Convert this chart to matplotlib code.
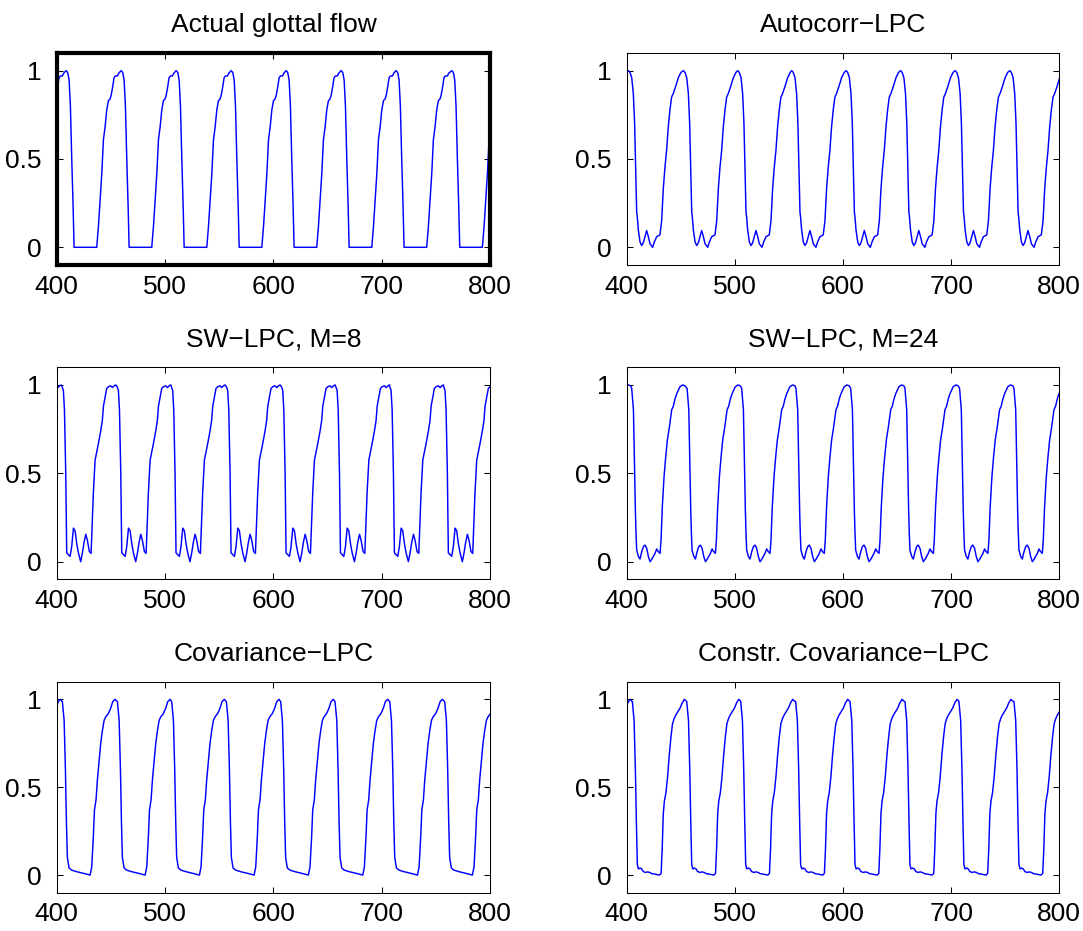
import numpy as np
import matplotlib
matplotlib.use("Agg")
import matplotlib.pyplot as plt

# One period of every waveform.
# t = samples relative to the closing instant (falling 0.5 crossing),
# falls = closing instants of the successive periods.

flow_t = [-5.3, -3.8, -2.5, -1.3, -0.1, 1.2, 2.1, 23.0, 24.6, 26.1, 27.7, 29.2, 30.7,
          32.3, 33.8, 35.3, 36.3, 37.5, 39.0, 40.3, 42.1, 43.3]
flow_y = [1.0, 0.99, 0.947, 0.80, 0.51, 0.23, 0.0, 0.0, 0.12, 0.27, 0.42, 0.61, 0.68,
          0.78, 0.83, 0.84, 0.86, 0.90, 0.96, 0.97, 0.97, 0.985]
flow_falls = [363.1, 413.9, 464.7, 515.5, 566.3, 617.0, 667.8, 718.5, 769.9, 820.7]

acorr_t = [-6.6, -5.1, -3.5, -2.0, -0.8, 0.2, 1.1, 1.7, 2.6, 4.2, 5.7, 7.2, 8.8, 10.3,
           11.9, 13.4, 15.9, 17.4, 19.6, 22.6, 24.2, 25.7, 27.2, 28.8, 30.3, 31.9, 33.4,
           34.9, 37.1, 39.6, 42.0]
acorr_y = [1.0, 0.99, 0.96, 0.87, 0.70, 0.45, 0.20, 0.17, 0.10, 0.03, 0.01, 0.025, 0.06,
           0.095, 0.06, 0.02, 0.0, 0.03, 0.06, 0.07, 0.15, 0.33, 0.45, 0.55, 0.68, 0.78,
           0.85, 0.87, 0.91, 0.96, 0.99]
acorr_falls = [357.7, 408.1, 459.0, 509.2, 559.1, 609.4, 659.8, 710.3, 760.8, 811.2]

sw8_t = [-3.4, -2.2, -1.2, -0.6, 0.0, 0.6, 0.9, 2.5, 4.0, 5.5, 7.1, 8.6, 10.2, 11.7, 13.8,
         15.4, 16.9, 18.5, 20.0, 21.8, 23.4, 24.3, 25.5, 27.1, 28.6, 30.2, 32.3, 33.8,
         34.8, 36.3, 37.8, 39.4, 41.5, 43.1, 44.6, 46.2]
sw8_y = [0.99, 0.97, 0.86, 0.67, 0.5, 0.2, 0.05, 0.04, 0.03, 0.085, 0.19, 0.175, 0.10,
         0.05, 0.0, 0.05, 0.11, 0.155, 0.12, 0.057, 0.047, 0.20, 0.39, 0.575, 0.62, 0.67,
         0.74, 0.80, 0.88, 0.93, 0.98, 0.99, 0.995, 0.985, 0.995, 1.0]
sw8_falls = [358.0, 408.3, 459.1, 509.2, 560.0, 610.8, 661.0, 710.8, 760.6, 811.0]

sw24_t = [-2.8, -1.2, -0.3, 0.6, 1.2, 1.8, 3.4, 4.9, 6.5, 8.0, 9.5, 11.1, 12.6, 14.2,
          15.7, 17.2, 18.8, 20.3, 21.8, 23.4, 24.3, 25.5, 27.1, 28.6, 30.2, 32.0, 34.2,
          35.7, 37.2, 38.8, 40.3, 41.8, 44.3, 46.5]
sw24_y = [0.98, 0.86, 0.58, 0.29, 0.16, 0.066, 0.03, 0.015, 0.057, 0.085, 0.094, 0.075,
          0.03, 0.0, 0.013, 0.03, 0.047, 0.072, 0.057, 0.047, 0.12, 0.31, 0.48, 0.59,
          0.69, 0.76, 0.86, 0.88, 0.92, 0.95, 0.97, 0.99, 1.0, 0.995]
sw24_falls = [357.2, 407.4, 458.6, 509.1, 559.3, 609.9, 660.1, 710.6, 760.9, 811.2]

cov_t = [-3.1, -1.5, -0.3, 0.6, 1.5, 3.1, 5.5, 10.2, 16.3, 22.5, 24.0, 25.5, 26.5, 28.0,
         29.2, 30.8, 32.3, 33.8, 35.4, 36.9, 39.4, 41.5, 43.4, 45.5]
cov_y = [0.987, 0.88, 0.6, 0.31, 0.10, 0.04, 0.028, 0.019, 0.01, 0.0, 0.047, 0.22, 0.37,
         0.43, 0.54, 0.65, 0.75, 0.82, 0.88, 0.90, 0.92, 0.95, 0.987, 1.0]
cov_falls = [358.0, 408.3, 459.1, 509.2, 559.7, 609.8, 660.0, 710.5, 761.2, 811.5]

ccov_t = [-3.1, -1.5, -0.3, 0.6, 1.5, 2.5, 4.0, 5.5, 7.0, 9.0, 11.0, 13.0, 15.0, 18.0,
          22.0, 23.5, 24.5, 25.5, 26.5, 28.0, 29.5, 31.0, 32.5, 34.0, 35.5, 37.0, 39.0,
          41.0, 43.0, 45.0, 46.7]
ccov_y = [0.987, 0.88, 0.6, 0.31, 0.06, 0.035, 0.04, 0.035, 0.02, 0.015, 0.018, 0.015,
          0.008, 0.005, 0.0, 0.01, 0.15, 0.35, 0.42, 0.47, 0.56, 0.68, 0.78, 0.86, 0.89,
          0.91, 0.93, 0.95, 0.98, 1.0, 0.99]
ccov_falls = [358.0, 408.3, 458.6, 508.5, 559.3, 609.6, 660.4, 710.3, 761.2, 811.5]

titles = ["Actual glottal flow", "Autocorr\u2212LPC",
          "SW\u2212LPC, M=8", "SW\u2212LPC, M=24",
          "Covariance\u2212LPC", "Constr. Covariance\u2212LPC"]
xticks = [400, 500, 600, 700, 800]
yticks = [0, 0.5, 1]
ytick_labels = ["0", "0.5", "1"]


def build_wave(falls, t, y):
    xs, ys = [], []
    for f in falls:
        xs.extend([f + v for v in t])
        ys.extend(y)
    return np.array(xs), np.array(ys)


panels = [
    (flow_falls, flow_t, flow_y),
    (acorr_falls, acorr_t, acorr_y),
    (sw8_falls, sw8_t, sw8_y),
    (sw24_falls, sw24_t, sw24_y),
    (cov_falls, cov_t, cov_y),
    (ccov_falls, ccov_t, ccov_y),
]

plt.rcParams["font.family"] = ["Liberation Sans", "DejaVu Sans"]

fig = plt.figure(figsize=(10.83, 9.31), dpi=100)

# axes boxes in figure fractions [left, bottom, width, height]
lefts = [0.0524, 0.5787]
widths = [0.4001, 0.3994]
bottoms = [0.7154, 0.3777, 0.0412]
heights = [0.2277, 0.2278, 0.2265]

for i, (falls, t, y) in enumerate(panels):
    r, c = divmod(i, 2)
    ax = fig.add_axes([lefts[c], bottoms[r], widths[c], heights[r]])
    xs, ys = build_wave(falls, t, y)
    ax.plot(xs, ys, color="#0000ff", lw=1.05)
    ax.set_xlim(400, 800)
    ax.set_ylim(-0.1, 1.1)
    ax.set_xticks(xticks)
    ax.set_yticks(yticks)
    ax.set_yticklabels(ytick_labels)
    ax.tick_params(direction="in", length=4, width=0.75, top=True, right=True,
                   labelsize=19, color="black")
    ax.tick_params(axis="x", pad=7)
    ax.tick_params(axis="y", pad=11)
    ax.set_title(titles[i], fontsize=19, pad=15)
    # the true flow panel is framed with a heavy box
    lw = 3.0 if i == 0 else 0.75
    for s in ax.spines.values():
        s.set_linewidth(lw)
        s.set_color("black")

fig.savefig("out.png", dpi=100)
